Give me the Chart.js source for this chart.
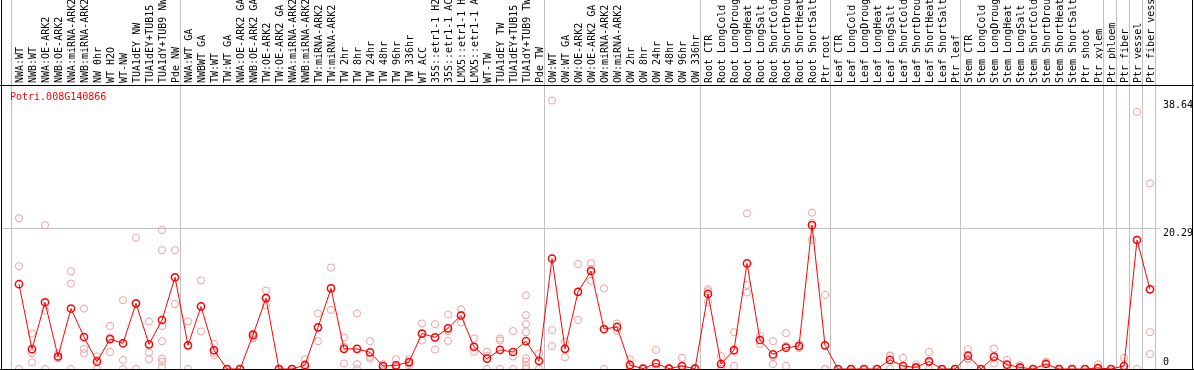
<!DOCTYPE html>
<html><head><meta charset="utf-8">
<script src="https://cdn.jsdelivr.net/npm/chart.js@4/dist/chart.umd.min.js"></script>
<style>html,body{margin:0;padding:0;background:#fff;}canvas{display:block;}</style>
</head><body>
<canvas id="c" width="1194" height="370"></canvas>
<script>
const geneTitle = 'Potri.008G140866';

const categories = [
  'NWA:WT','NWB:WT','NWA:OE-ARK2','NWB:OE-ARK2','NWA:miRNA-ARK2','NWB:miRNA-ARK2','NW 0hr','WT H2O','WT-NW',
  'TUA1dEY NW','TUA1dEY+TUB15 NW','TUA1dY+TUB9 NW','Pde NW',
  'NWA:WT GA','NWBWT GA','TW:WT','TW:WT GA','NWA:OE-ARK2 GA','NWB:OE-ARK2 GA','TW:OE-ARK2','TW:OE-ARK2 GA',
  'NWA:miRNA-ARK2 GA','NWB:miRNA-ARK2 GA','TW:miRNA-ARK2','TW:miRNA-ARK2 GA',
  'TW 2hr','TW 8hr','TW 24hr','TW 48hr','TW 96hr','TW 336hr','WT ACC',
  '35S::etr1-1 H2O','35S::etr1-1 ACC','LMX5::etr1-1 H2O','LMX5::etr1-1 ACC',
  'WT-TW','TUA1dEY TW','TUA1dEY+TUB15 TW','TUA1dY+TUB9 TW','Pde TW',
  'OW:WT','OW:WT GA','OW:OE-ARK2','OW:OE-ARK2 GA','OW:miRNA-ARK2','OW:miRNA-ARK2 GA',
  'OW 2hr','OW 8hr','OW 24hr','OW 48hr','OW 96hr','OW 336hr',
  'Root CTR','Root LongCold','Root LongDrought','Root LongHeat','Root LongSalt',
  'Root ShortCold','Root ShortDrought','Root ShortHeat','Root ShortSalt','Ptr root',
  'Leaf CTR','Leaf LongCold','Leaf LongDrought','Leaf LongHeat','Leaf LongSalt',
  'Leaf ShortCold','Leaf ShortDrought','Leaf ShortHeat','Leaf ShortSalt','Ptr leaf',
  'Stem CTR','Stem LongCold','Stem LongDrought','Stem LongHeat','Stem LongSalt',
  'Stem ShortCold','Stem ShortDrought','Stem ShortHeat','Stem ShortSalt','Ptr shoot',
  'Ptr xylem','Ptr phloem','Ptr fiber','Ptr vessel','Ptr fiber vessel'
];

const meanValues = [
  12.2, 2.85, 9.6, 1.8, 8.7, 4.6, 1.05, 4.3, 3.7, 9.45, 3.55, 7.05, 13.2,
  3.4, 9.0, 2.7, 0, 0, 4.9, 10.2, 0, 0, 0.58, 6.0, 11.6,
  2.9, 2.9, 2.4, 0.43, 0.53, 1.0, 5.1, 4.55, 5.85, 7.7, 3.2,
  1.5, 2.75, 2.45, 4.0, 1.15,
  15.9, 2.9, 11.1, 14.1, 5.75, 6.05, 0.58, 0.05, 0.82, 0.05, 0.43, 0.05,
  10.8, 0.72, 2.73, 15.2, 4.17, 2.1, 3.07, 3.3, 20.7, 3.4,
  0, 0, 0, 0, 1.3, 0.43, 0.24, 1.1, 0, 0,
  1.92, 0, 1.77, 0.62, 0.24, 0, 0.72, 0, 0, 0,
  0.14, 0, 0.43, 18.56, 11.46
];

const replicateValues = [
  [21.7, 14.8, 0], [5.1, 2.25, 0.95], [20.7, 8.4, 0], [2.25, 1.55, 1.75], [14.05, 12.3, 0],
  [8.7, 2.9, 2.25], [1.8, 1.3, 0], [6.2, 4.55, 2.45], [9.9, 1.3, 0], [18.9, 9.45, 0],
  [6.85, 2.4, 1.4], [20.0, 17.1, 6.2, 4.0, 1.5, 1.05, 0.3], [17.1, 13.2, 9.35],
  [6.85, 3.4, 0], [12.75, 9.0, 5.4], [3.6, 2.35, 2.0], [0, 0, 0], [0, 0, 0],
  [5.1, 4.65, 4.4], [11.3, 10.2, 9.2], [0, 0, 0], [0, 0, 0], [1.4, 0.35, 0],
  [8.0, 6.0, 4.0], [14.6, 11.7, 8.5],
  [4.55, 3.2, 0.8], [8.0, 0.7, 0], [4.0, 1.75, 1.5], [0.7, 0.4, 0], [1.4, 0.25, 0],
  [1.4, 0.8, 0.55], [6.55, 5.1, 4.1], [6.45, 4.55, 2.8], [7.85, 5.45, 4.05],
  [8.6, 7.8, 6.7], [4.4, 3.2, 2.5],
  [2.5, 1.9, 0], [4.4, 4.1, 0], [5.45, 1.8, 0], [10.6, 7.75, 6.45, 5.3, 1.55, 1.05, 0.45, 0], [2.25, 1.2, 0],
  [38.64, 5.6, 3.3], [3.9, 2.9, 1.7], [15.1, 11.1, 7.05], [15.2, 14.4, 12.7],
  [11.6, 5.7, 0], [6.55, 6.0, 5.5], [1.4, 0.35, 0], [0.15, 0, 0], [2.75, 0, 0],
  [0.15, 0, 0], [1.6, 0, 0], [0.15, 0, 0],
  [11.5, 11.2, 9.6], [1.85, 0.35, 0], [5.3, 2.5, 0.45], [22.4, 12.1, 11.0], [4.75, 4.15, 3.6],
  [4.0, 1.75, 0.7], [5.15, 3.3, 0.45], [3.6, 3.3, 3.0], [22.5, 21.05, 18.6], [10.65, 0, 0],
  [0, 0, 0], [0, 0, 0], [0, 0, 0], [0, 0, 0], [1.95, 1.9, 0],
  [1.6, 0, 0], [0.65, 0.1, 0], [2.45, 0.9, 0], [0, 0, 0], [0, 0, 0],
  [2.85, 1.55, 1.4], [0, 0, 0], [2.95, 1.6, 0.8], [1.3, 0.55, 0], [0.55, 0.15, 0],
  [0, 0, 0], [1.05, 0.9, 0.2], [0, 0, 0], [0, 0, 0], [0, 0, 0],
  [0.7, 0, 0], [0, 0, 0], [1.6, 0, 0], [37.0, 18.6, 0], [26.7, 5.3, 2.15]
];

const yTickValues = [0, 20.29, 38.64];
const yGridValues = [20.29];
// index of the first category of each group (lines are drawn before them); 88 = after the last
const groupStarts = [0, 13, 41, 53, 63, 73, 84, 85, 86, 87, 88];

const meanPoints = meanValues.map((v, i) => ({x: i, y: v}));
const replicatePoints = [];
replicateValues.forEach((reps, i) => reps.forEach(v => replicatePoints.push({x: i, y: v})));

const FONT = {family: "'DejaVu Sans Mono', monospace", size: 10};

function noPadding(s) {
  s.paddingLeft = 0; s.paddingRight = 0; s.paddingTop = 0; s.paddingBottom = 0;
}

const framePlugin = {
  id: 'frame',
  beforeDatasetsDraw(chart) {
    const {ctx, chartArea, scales} = chart;
    const x = scales.x;
    ctx.save();
    ctx.strokeStyle = '#c0c0c0';
    ctx.lineWidth = 1;
    groupStarts.forEach(s => {
      const px = Math.floor(x.getPixelForValue(s - 0.5) - 1.5) + 0.5;
      ctx.beginPath();
      ctx.moveTo(px, 0);
      ctx.lineTo(px, chartArea.bottom);
      ctx.stroke();
    });
    ctx.restore();
  },
  afterDraw(chart) {
    const {ctx, chartArea, width} = chart;
    ctx.save();
    ctx.strokeStyle = '#000';
    ctx.lineWidth = 1;
    ctx.beginPath();
    ctx.moveTo(1.5, 0); ctx.lineTo(1.5, chartArea.bottom + 0.5);
    ctx.moveTo(width - 1.5, 0); ctx.lineTo(width - 1.5, chartArea.bottom + 0.5);
    ctx.moveTo(0, chartArea.top + 0.5); ctx.lineTo(width, chartArea.top + 0.5);
    ctx.moveTo(0, chartArea.bottom + 0.5); ctx.lineTo(width, chartArea.bottom + 0.5);
    ctx.stroke();
    ctx.fillStyle = '#ff0000';
    ctx.font = "10px 'DejaVu Sans Mono', monospace";
    ctx.textBaseline = 'alphabetic';
    ctx.textAlign = 'left';
    ctx.fillText(geneTitle, 10, chartArea.top + 15);
    ctx.restore();
  }
};

new Chart(document.getElementById('c'), {
  type: 'line',
  data: {
    datasets: [
      {
        label: 'mean', data: meanPoints, order: 0,
        borderColor: '#ff0000', borderWidth: 1, tension: 0,
        pointRadius: 3.6, pointBorderWidth: 1.5,
        pointBorderColor: '#ff0000', pointBackgroundColor: 'rgba(0,0,0,0)'
      },
      {
        label: 'replicates', data: replicatePoints, order: 1, showLine: false,
        pointRadius: 3.6, pointBorderWidth: 1,
        pointBorderColor: '#eea0a0', pointBackgroundColor: 'rgba(0,0,0,0)'
      }
    ]
  },
  options: {
    responsive: false, animation: false, devicePixelRatio: 1,
    layout: {autoPadding: false, padding: {left: 1, right: 0, top: 0, bottom: 1}},
    plugins: {legend: {display: false}, tooltip: {enabled: false}, title: {display: false}},
    scales: {
      x: {
        type: 'linear', position: 'top',
        min: -18 / 13, max: 1141 / 13,
        afterFit: s => { s.height = 85; noPadding(s); },
        afterBuildTicks: s => { s.ticks = categories.map((c, i) => ({value: i})); },
        ticks: {
          autoSkip: false, maxRotation: 90, minRotation: 90, padding: 2, labelOffset: 13,
          font: FONT, color: '#000',
          callback: v => categories[v] !== undefined ? categories[v] : ''
        },
        grid: {display: false, drawTicks: false},
        border: {display: false}
      },
      y: {
        type: 'linear', position: 'right',
        min: 0, max: 40.87,
        afterFit: s => { s.width = 34; noPadding(s); },
        afterBuildTicks: s => { s.ticks = yTickValues.map(v => ({value: v})); },
        ticks: {
          align: 'start', padding: 3, font: FONT, color: '#000',
          callback: v => v === 0 ? ['0', '', ''] : String(v)
        },
        grid: {
          drawTicks: false, lineWidth: 1,
          color: c => (c.tick && yGridValues.includes(c.tick.value)) ? '#c0c0c0' : 'rgba(0,0,0,0)'
        },
        border: {display: false}
      }
    }
  },
  plugins: [framePlugin]
});
</script>
</body></html>
